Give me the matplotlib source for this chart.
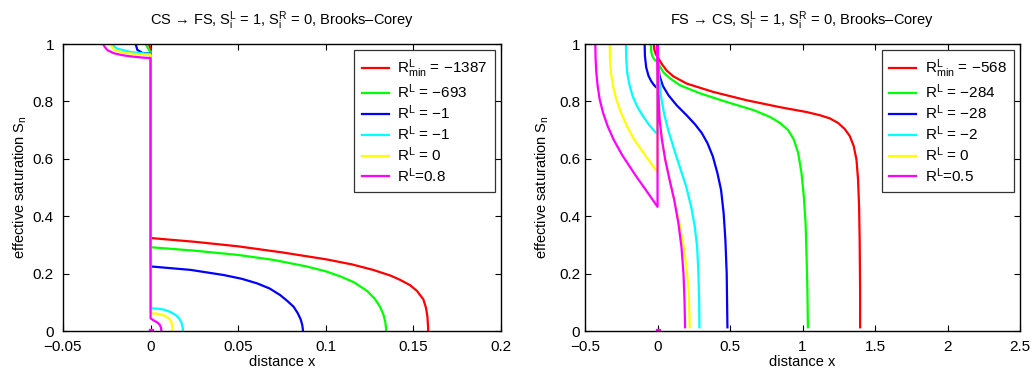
import matplotlib
matplotlib.use("Agg")
import matplotlib.pyplot as plt
from matplotlib.ticker import FuncFormatter, FixedLocator

plt.rcParams['font.family'] = ['Liberation Sans', 'DejaVu Sans']
plt.rcParams['mathtext.fontset'] = 'custom'
plt.rcParams['mathtext.rm'] = 'Liberation Sans'
plt.rcParams['mathtext.it'] = 'Liberation Sans'

# ---------------- Left panel: CS -> FS ----------------
cs_red_x = [-0.001, 0.0, 0.0, 0.025, 0.05, 0.075, 0.1, 0.115, 0.127, 0.137, 0.1425, 0.148,
            0.152, 0.1557, 0.1572, 0.158, 0.1583, 0.1585]
cs_red_s = [1.0, 0.985, 0.324, 0.311, 0.295, 0.274, 0.250, 0.232, 0.213, 0.193, 0.178, 0.160,
            0.140, 0.110, 0.080, 0.050, 0.020, 0.0]
cs_green_x = [-0.0028, -0.001, 0.0, 0.0, 0.025, 0.05, 0.07, 0.089, 0.1, 0.108, 0.116, 0.1235,
              0.128, 0.131, 0.133, 0.134, 0.1345]
cs_green_s = [1.0, 0.98, 0.972, 0.292, 0.280, 0.265, 0.248, 0.225, 0.208, 0.191, 0.170, 0.140,
              0.112, 0.084, 0.055, 0.030, 0.0]
cs_blue_x = [-0.0085, -0.0076, -0.0048, 0.0, 0.0, 0.0228, 0.0418, 0.052, 0.0608, 0.068, 0.074,
             0.078, 0.0817, 0.084, 0.0857, 0.0866, 0.087]
cs_blue_s = [1.0, 0.98, 0.969, 0.966, 0.225, 0.213, 0.195, 0.182, 0.166, 0.148, 0.125,
             0.105, 0.084, 0.062, 0.040, 0.020, 0.0]
cs_cyan_x = [-0.0218, -0.0205, -0.019, -0.0114, 0.0, 0.0, 0.004, 0.008, 0.0115, 0.0145, 0.0165,
             0.0177, 0.0183, 0.0185]
cs_cyan_s = [1.0, 0.99, 0.984, 0.972, 0.965, 0.079, 0.078, 0.074, 0.066, 0.055, 0.042,
             0.028, 0.012, 0.0]
cs_yellow_x = [-0.0232, -0.022, -0.021, -0.0152, 0.0, 0.0, 0.004, 0.0075, 0.0100, 0.0115, 0.0122,
               0.0125, 0.0126]
cs_yellow_s = [1.0, 0.99, 0.98, 0.969, 0.961, 0.062, 0.060, 0.055, 0.046, 0.036, 0.024,
               0.010, 0.0]
cs_magenta_x = [-0.027, -0.0262, -0.0245, -0.021, -0.016, -0.0114, -0.005, 0.0, 0.0, 0.002,
                0.0038, 0.0052, 0.0059, 0.0062]
cs_magenta_s = [1.0, 0.99, 0.978, 0.968, 0.961, 0.957, 0.953, 0.951, 0.044, 0.036,
                0.030, 0.022, 0.012, 0.0]
cs_labels = [r'R$^{\mathregular{L}}_{\mathregular{min}}$ = −1387', r'R$^{\mathregular{L}}$ = −693',
             r'R$^{\mathregular{L}}$ = −1', r'R$^{\mathregular{L}}$ = −1',
             r'R$^{\mathregular{L}}$ = 0', r'R$^{\mathregular{L}}$=0.8']

# ---------------- Right panel: FS -> CS ----------------
fs_red_x = [-0.025, -0.022, -0.012, 0.0, 0.012, 0.030, 0.064, 0.110, 0.202, 0.385, 0.615, 0.844,
            1.028, 1.119, 1.188, 1.245, 1.291, 1.326, 1.353, 1.372, 1.383, 1.390, 1.394, 1.397,
            1.397]
fs_red_s = [1.0, 0.98, 0.965, 0.955, 0.945, 0.930, 0.907, 0.887, 0.862, 0.833, 0.804, 0.780,
            0.763, 0.752, 0.741, 0.725, 0.704, 0.679, 0.644, 0.597, 0.527, 0.433, 0.317, 0.141,
            0.013]
fs_green_x = [-0.046, -0.044, -0.036, -0.020, 0.0, 0.014, 0.041, 0.087, 0.156, 0.294, 0.477,
              0.661, 0.775, 0.844, 0.901, 0.940, 0.970, 0.993, 1.009, 1.021, 1.028, 1.034, 1.037]
fs_green_s = [1.0, 0.975, 0.957, 0.945, 0.937, 0.924, 0.901, 0.880, 0.856, 0.828, 0.798,
              0.770, 0.746, 0.725, 0.700, 0.667, 0.620, 0.550, 0.468, 0.375, 0.258, 0.130, 0.013]
fs_blue_x = [-0.089, -0.087, -0.078, -0.062, -0.044, -0.023, 0.0, 0.0, 0.002, 0.014, 0.037, 0.076,
             0.133, 0.202, 0.259, 0.305, 0.344, 0.381, 0.413, 0.438, 0.456, 0.468, 0.477, 0.482]
fs_blue_s = [1.0, 0.959, 0.918, 0.889, 0.871, 0.856, 0.845, 0.94, 0.936, 0.889, 0.854, 0.821,
             0.786, 0.751, 0.720, 0.690, 0.655, 0.609, 0.550, 0.492, 0.410, 0.317, 0.200, 0.013]
fs_cyan_x = [-0.218, -0.216, -0.209, -0.195, -0.172, -0.142, -0.101, -0.055, 0.0, 0.0, 0.009,
             0.023, 0.046, 0.076, 0.115, 0.156, 0.197, 0.232, 0.257, 0.273, 0.282, 0.287, 0.289]
fs_cyan_s = [1.0, 0.947, 0.900, 0.860, 0.819, 0.784, 0.749, 0.716, 0.685, 0.96, 0.889,
             0.819, 0.755, 0.696, 0.632, 0.568, 0.504, 0.433, 0.363, 0.293, 0.200, 0.106, 0.013]
fs_yellow_x = [-0.330, -0.328, -0.321, -0.307, -0.284, -0.252, -0.211, -0.161, -0.096, 0.0, 0.0,
               0.009, 0.023, 0.046, 0.078, 0.115, 0.151, 0.181, 0.202, 0.216, 0.222]
fs_yellow_s = [1.0, 0.947, 0.900, 0.854, 0.807, 0.761, 0.714, 0.667, 0.620, 0.553, 0.98,
               0.784, 0.702, 0.620, 0.539, 0.457, 0.375, 0.293, 0.211, 0.130, 0.013]
fs_magenta_x = [-0.429, -0.427, -0.422, -0.413, -0.399, -0.376, -0.344, -0.303, -0.245, -0.154,
                -0.073, 0.0, 0.0, 0.005, 0.014, 0.030, 0.053, 0.083, 0.115, 0.144, 0.165, 0.179,
                0.186, 0.190]
fs_magenta_s = [1.0, 0.947, 0.900, 0.854, 0.807, 0.761, 0.714, 0.667, 0.614, 0.544,
                0.486, 0.433, 1.0, 0.842, 0.737, 0.667, 0.597, 0.527, 0.457, 0.375, 0.293, 0.200,
                0.106, 0.013]
fs_labels = [r'R$^{\mathregular{L}}_{\mathregular{min}}$ = −568', r'R$^{\mathregular{L}}$ = −284',
             r'R$^{\mathregular{L}}$ = −28', r'R$^{\mathregular{L}}$ = −2',
             r'R$^{\mathregular{L}}$ = 0', r'R$^{\mathregular{L}}$=0.5']

colors = ['#ff0000', '#00ff00', '#0000ff', '#00ffff', '#ffff00', '#ff00ff']

cs_xticks = [-0.05, 0, 0.05, 0.1, 0.15, 0.2]
fs_xticks = [-0.5, 0, 0.5, 1, 1.5, 2, 2.5]
yticks = [0, 0.2, 0.4, 0.6, 0.8, 1]

fig = plt.figure(figsize=(10.36, 3.75), dpi=100)
ax1 = fig.add_axes([0.0608, 0.1173, 0.4228, 0.7653])
ax2 = fig.add_axes([0.5647, 0.1173, 0.4199, 0.7653])

fmt = FuncFormatter(lambda v, p: ('%g' % v).replace('-', '−'))

panels = [
    (ax1, [(cs_red_x, cs_red_s), (cs_green_x, cs_green_s), (cs_blue_x, cs_blue_s),
           (cs_cyan_x, cs_cyan_s), (cs_yellow_x, cs_yellow_s), (cs_magenta_x, cs_magenta_s)],
     cs_labels, cs_xticks, (-0.05, 0.2), 6.5, 3,
     r'CS → FS, S$_{\mathregular{i}}^{\mathregular{L}}$ = 1, S$_{\mathregular{i}}^{\mathregular{R}}$ = 0, Brooks–Corey'),
    (ax2, [(fs_red_x, fs_red_s), (fs_green_x, fs_green_s), (fs_blue_x, fs_blue_s),
           (fs_cyan_x, fs_cyan_s), (fs_yellow_x, fs_yellow_s), (fs_magenta_x, fs_magenta_s)],
     fs_labels, fs_xticks, (-0.5, 2.5), 3.5, 6,
     r'FS → CS, S$_{\mathregular{i}}^{\mathregular{L}}$ = 1, S$_{\mathregular{i}}^{\mathregular{R}}$ = 0, Brooks–Corey'),
]

for ax, curves, labels, xt, xl, ypad, ylpad, title in panels:
    for (xs, ss), c, lab in zip(curves, colors, labels):
        ax.plot(xs, ss, color=c, lw=1.6, label=lab, solid_joinstyle='round')
    ax.plot([0], [0], marker='s', ms=2.5, color='#ff00ff', ls='none')
    ax.set_xlim(*xl)
    ax.set_ylim(0, 1)
    ax.xaxis.set_major_locator(FixedLocator(xt))
    ax.yaxis.set_major_locator(FixedLocator(yticks))
    ax.xaxis.set_major_formatter(fmt)
    ax.yaxis.set_major_formatter(fmt)
    ax.tick_params(direction='in', top=True, right=True, labelsize=11, length=4, width=0.8)
    ax.tick_params(axis='x', pad=6.5)
    ax.tick_params(axis='y', pad=ypad)
    for sp in ax.spines.values():
        sp.set_linewidth(1.0)
    ax.set_xlabel('distance x', fontsize=10.5, labelpad=1)
    ax.set_ylabel(r'effective saturation S$_{\mathregular{n}}$', fontsize=10.5, labelpad=ylpad)
    ax.set_title(title, fontsize=10.5, pad=14)
    leg = ax.legend(loc='upper right', fontsize=11, frameon=True, fancybox=False,
                    edgecolor='black', handlelength=1.75, labelspacing=0.15,
                    borderaxespad=0.4, handletextpad=0.55, borderpad=0.5)
    leg.get_frame().set_linewidth(0.9)

fig.savefig('out.png', dpi=100)
